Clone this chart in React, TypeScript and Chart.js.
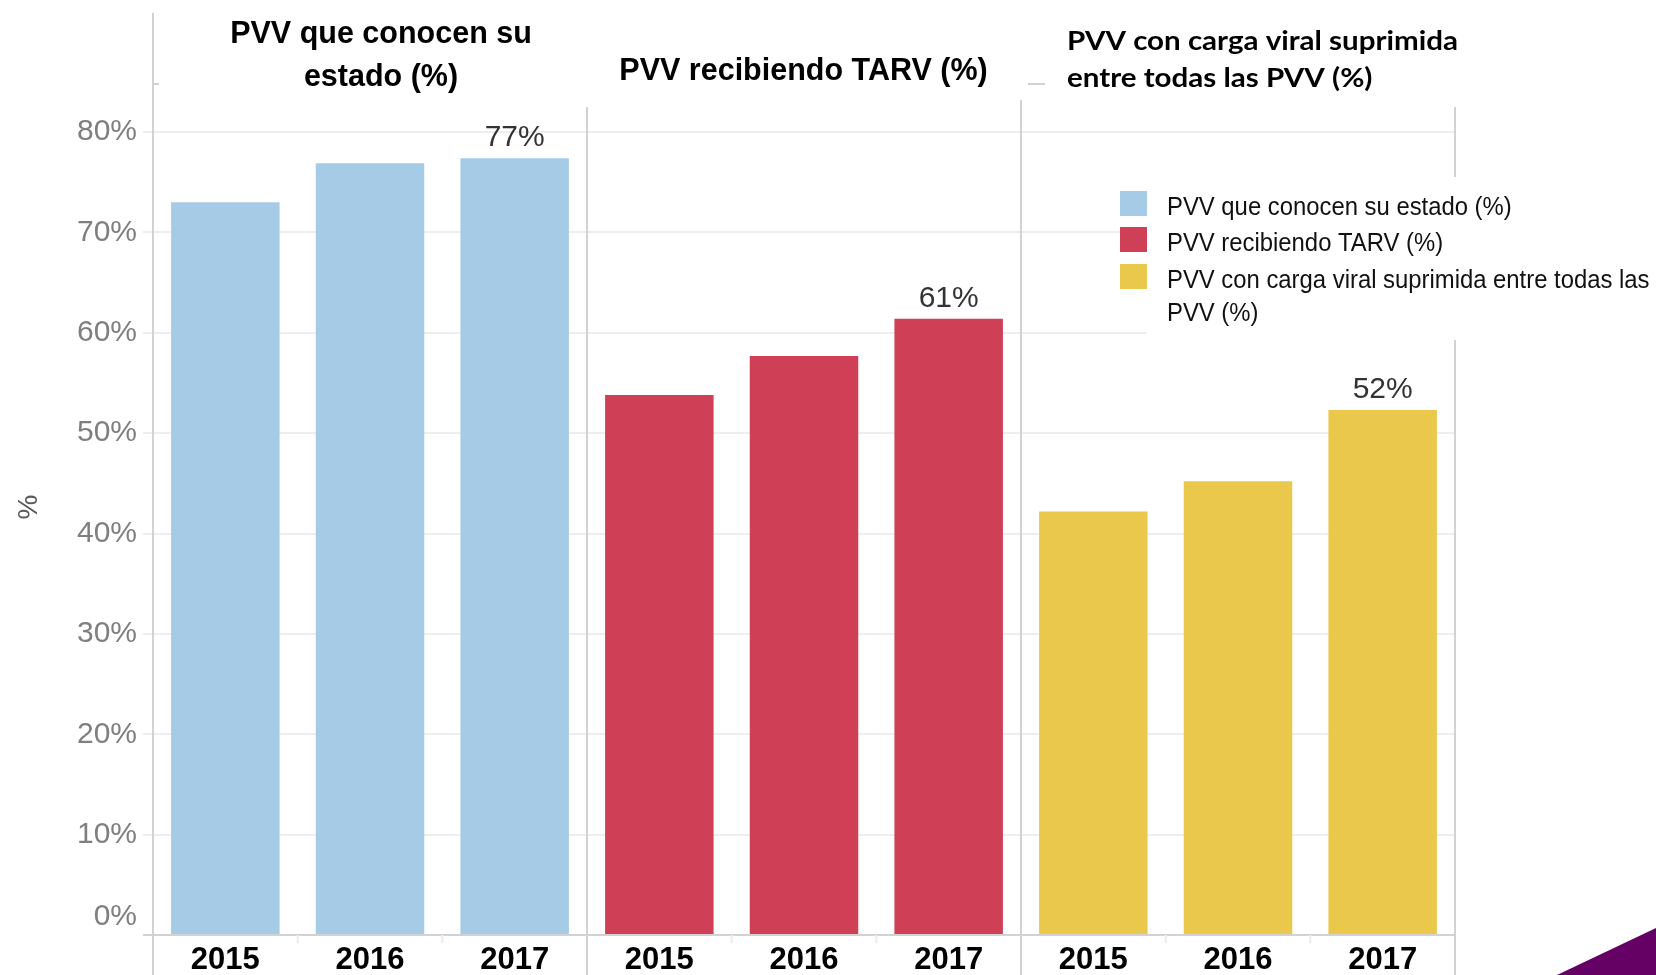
import { useEffect, useRef } from "react";
import { Chart, registerables } from "chart.js";

Chart.register(...registerables);

// ---------------- data ----------------
const years = ["2015", "2016", "2017"];
const seriesLabels = [
  "PVV que conocen su estado (%)",
  "PVV recibiendo TARV (%)",
  "PVV con carga viral suprimida entre todas las PVV (%)",
];
const conocenEstado = [73.0, 76.9, 77.4];
const recibiendoTarv = [53.8, 57.7, 61.4];
const cargaSuprimida = [42.2, 45.2, 52.3];
const panelTitles = [
  ["PVV que conocen su", "estado (%)"],
  ["PVV recibiendo TARV (%)"],
  ["PVV con carga viral suprimida", "entre todas las PVV (%)"],
];
const yTickValues = [0, 10, 20, 30, 40, 50, 60, 70, 80];
const yAxisTitle = "%";

// ---------------- styles ----------------
const seriesValues = [conocenEstado, recibiendoTarv, cargaSuprimida];
const seriesColors = ["#a6cbe6", "#cf3f55", "#e9c84b"];
const FONT = "'Liberation Sans', Arial, Helvetica, sans-serif";
const LINE = "#d2d2d2";
const TICK_COLOR = "#7f7f7f";
const TICK_SIZE = 30;
const TICK_FONT = `${TICK_SIZE}px ${FONT}`;

const fmtPct = (v: number) => v + "%";

const decorPlugin = {
  id: "decor",
  beforeDatasetsDraw(chart: any) {
    const { ctx, chartArea: ca } = chart;
    const xs = chart.scales.x;
    const n = chart.data.labels.length;
    const cw = xs.getPixelForTick(1) - xs.getPixelForTick(0);
    const boundary = (i: number) =>
      i < n ? xs.getPixelForTick(i) - cw / 2 : xs.getPixelForTick(n - 1) + cw / 2;
    const H = chart.height;
    ctx.save();
    // faint ticks between years
    ctx.strokeStyle = "#ececec";
    ctx.lineWidth = 2;
    for (let i = 1; i < n; i++) {
      if (i % years.length === 0) continue;
      const x = boundary(i);
      ctx.beginPath();
      ctx.moveTo(x, ca.bottom);
      ctx.lineTo(x, ca.bottom + 8);
      ctx.stroke();
    }
    // left axis line (full height)
    ctx.strokeStyle = LINE;
    ctx.lineWidth = 2;
    ctx.beginPath();
    ctx.moveTo(ca.left, 13);
    ctx.lineTo(ca.left, H);
    ctx.stroke();
    // panel separators
    for (let i = years.length; i <= n; i += years.length) {
      const x = boundary(i);
      const top = i === 2 * years.length ? ca.top - 7 : ca.top;
      ctx.beginPath();
      ctx.moveTo(x, top);
      ctx.lineTo(x, H);
      ctx.stroke();
    }
    // small stray dashes
    ctx.beginPath();
    ctx.moveTo(ca.left, 84);
    ctx.lineTo(ca.left + 6, 84);
    ctx.moveTo(boundary(2 * years.length) + 7, 84);
    ctx.lineTo(boundary(2 * years.length) + 24, 84);
    ctx.stroke();

    // the 0% tick label sits a little above the baseline
    const ys = chart.scales.y;
    ctx.font = TICK_FONT;
    ctx.fillStyle = TICK_COLOR;
    ctx.textAlign = "right";
    ctx.textBaseline = "middle";
    ctx.fillText(fmtPct(yTickValues[0]), ca.left - 16, ys.getPixelForValue(yTickValues[0]) - 18);
    ctx.restore();
  },
  afterDraw(chart: any) {
    const { ctx } = chart;
    const W = chart.width;
    const H = chart.height;
    ctx.save();

    // value labels on the last bar of each panel
    ctx.font = `30px ${FONT}`;
    ctx.fillStyle = "#333333";
    ctx.textAlign = "center";
    ctx.textBaseline = "alphabetic";
    chart.data.datasets.forEach((ds: any, s: number) => {
      const idx = s * years.length + years.length - 1;
      const el = chart.getDatasetMeta(s).data[idx];
      const v = ds.data[idx];
      if (el && v != null) ctx.fillText(Math.round(v) + "%", el.x, el.y - 12);
    });

    // legend (white box covers grid)
    ctx.fillStyle = "#ffffff";
    ctx.fillRect(1147, 177, W - 1147, 163);
    const rowTops = [191, 227, 264];
    const hs = 0.9;
    ctx.font = `26.5px ${FONT}`;
    ctx.textAlign = "left";
    ctx.textBaseline = "alphabetic";
    const textX = 1167;
    chart.data.datasets.forEach((ds: any, s: number) => {
      ctx.fillStyle = ds.backgroundColor;
      ctx.fillRect(1120, rowTops[s], 27, 25);
      ctx.fillStyle = "#111111";
      const words = String(ds.label).split(" ");
      const lines: string[] = [];
      let cur = "";
      for (const w of words) {
        const test = cur ? cur + " " + w : w;
        if (ctx.measureText(test).width * hs > W - textX + 3 && cur) {
          lines.push(cur);
          cur = w;
        } else cur = test;
      }
      if (cur) lines.push(cur);
      lines.forEach((ln, k) => {
        ctx.save();
        ctx.translate(textX, rowTops[s] + 24 + k * 33);
        ctx.scale(hs, 1);
        ctx.fillText(ln, 0, 0);
        ctx.restore();
      });
    });

    // panel titles
    ctx.fillStyle = "#000000";
    ctx.font = `bold 30.5px ${FONT}`;
    ctx.textAlign = "center";
    ctx.fillText(panelTitles[0][0], 381, 43);
    ctx.fillText(panelTitles[0][1], 381, 86);
    ctx.fillText(panelTitles[1][0], 803.5, 80);
    // third title (Calibri-like)
    ctx.font = `bold 27px Lato, 'Open Sans', sans-serif`;
    ctx.textAlign = "left";
    const m = ctx.measureText(panelTitles[2][0]).width;
    const sx = 391 / m;
    ctx.save();
    ctx.translate(1067, 0);
    ctx.scale(sx, 1);
    ctx.fillText(panelTitles[2][0], 0, 50);
    ctx.fillText(panelTitles[2][1], 0, 87);
    ctx.restore();

    // y axis title
    ctx.save();
    ctx.translate(29, 507);
    ctx.rotate(-Math.PI / 2);
    ctx.font = `28px ${FONT}`;
    ctx.fillStyle = "#595959";
    ctx.textAlign = "center";
    ctx.textBaseline = "middle";
    ctx.fillText(yAxisTitle, 0, 0);
    ctx.restore();

    // purple corner decoration
    ctx.fillStyle = "#650064";
    ctx.beginPath();
    ctx.moveTo(1557, H);
    ctx.lineTo(W, 928);
    ctx.lineTo(W, H);
    ctx.closePath();
    ctx.fill();

    ctx.restore();
  },
};

export default function App() {
  const ref = useRef<HTMLCanvasElement>(null);
  useEffect(() => {
    document.body.style.margin = "0";
    const canvas = ref.current!;
    const labels = seriesValues.flatMap(() => years);
    const datasets = seriesValues.map((vals, s) => ({
      label: seriesLabels[s],
      data: labels.map((_, i) =>
        Math.floor(i / years.length) === s ? vals[i % years.length] : null
      ),
      backgroundColor: seriesColors[s],
      borderWidth: 0,
      barPercentage: 0.75,
      categoryPercentage: 1,
    }));
    const chart = new Chart(canvas, {
      type: "bar",
      data: { labels, datasets },
      options: {
        responsive: false,
        animation: false,
        events: [],
        layout: { padding: { top: 107, right: 201, bottom: 0, left: 0 } },
        plugins: {
          legend: { display: false },
          tooltip: { enabled: false },
          title: { display: false },
        },
        scales: {
          x: {
            stacked: true,
            grid: { display: false, drawTicks: false },
            border: { display: true, color: LINE, width: 2 },
            ticks: {
              color: "#000000",
              font: { family: FONT, size: 31, weight: "bold" },
              padding: 7,
              autoSkip: false,
              maxRotation: 0,
            },
            afterFit: (s: any) => {
              s.height = 40;
            },
          },
          y: {
            min: 0,
            max: 82.5,
            afterBuildTicks: (s: any) => {
              s.ticks = yTickValues.map((v) => ({ value: v }));
            },
            grid: {
              color: (c: any) => (c.tick && c.tick.value === 0 ? LINE : "#eeeeee"),
              lineWidth: 2,
              tickLength: 10,
              drawTicks: true,
            },
            border: { display: false },
            ticks: {
              color: (c: any) =>
                c.tick && c.tick.value === yTickValues[0] ? "rgba(0,0,0,0)" : TICK_COLOR,
              font: { family: FONT, size: TICK_SIZE },
              padding: 6,
              callback: (v: any) => fmtPct(v),
            },
            afterFit: (s: any) => {
              s.width = 153;
            },
          },
        },
      } as any,
      plugins: [decorPlugin],
    });
    return () => chart.destroy();
  }, []);
  return (
    <div style={{ width: 1656, height: 975, background: "#ffffff" }}>
      <canvas ref={ref} width={1656} height={975} style={{ display: "block" }} />
    </div>
  );
}
